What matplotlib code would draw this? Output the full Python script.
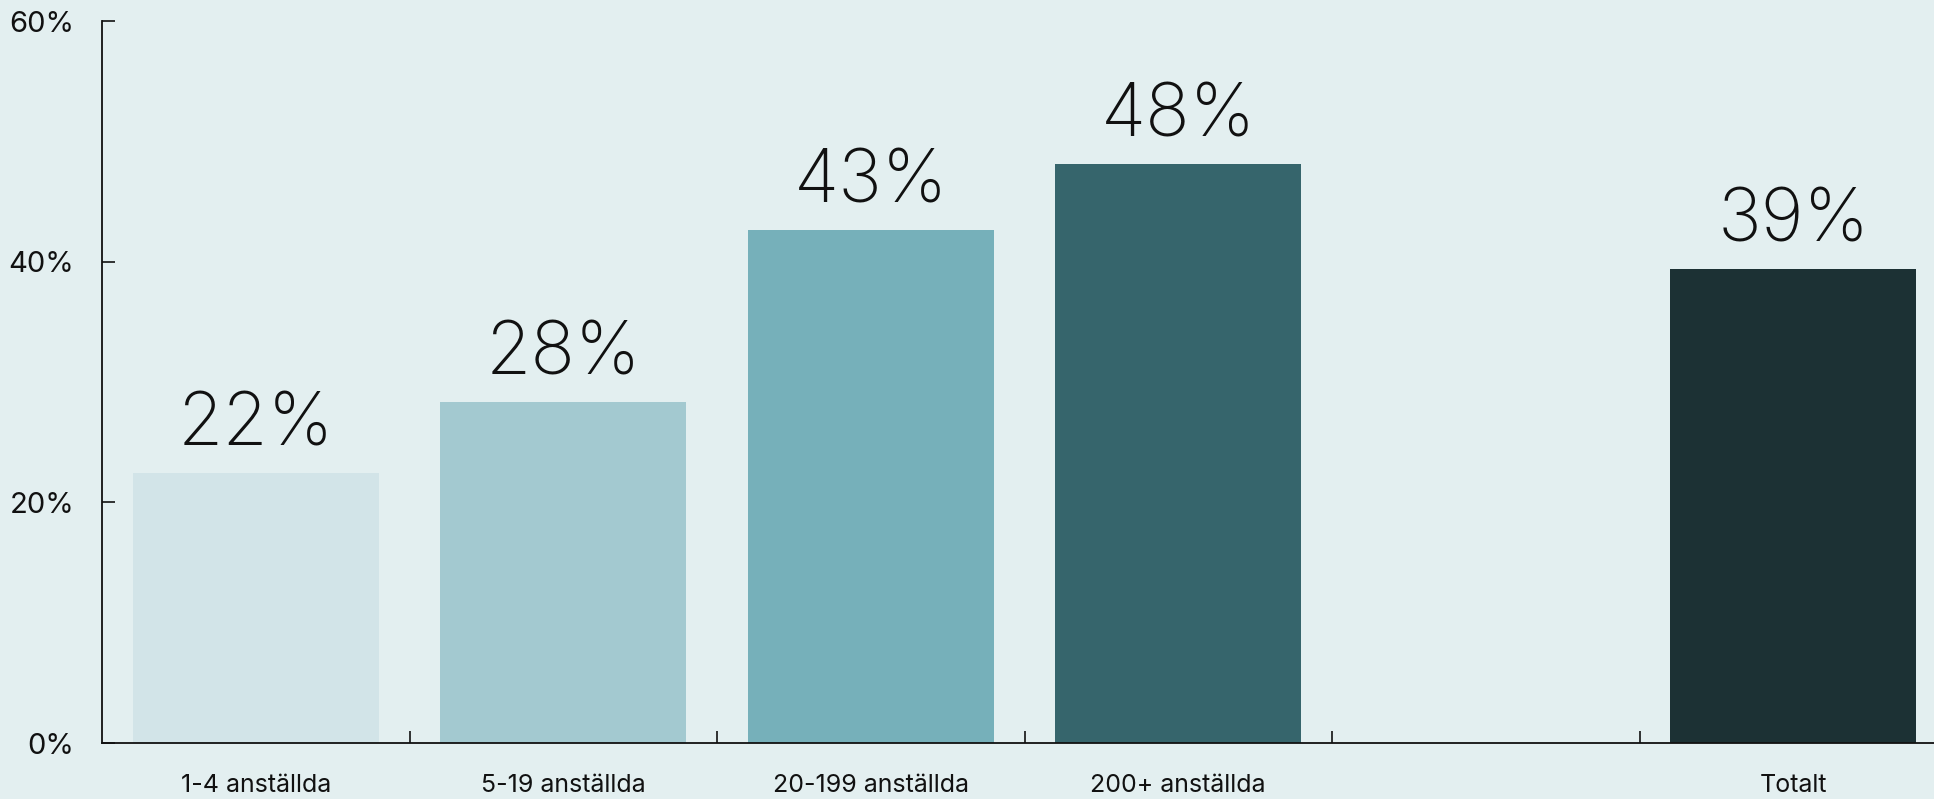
import matplotlib.pyplot as plt
from matplotlib.ticker import FuncFormatter

# data
kategorier = ['1-4 anställda', '5-19 anställda', '20-199 anställda', '200+ anställda', '', 'Totalt']
andel = [22.4, 28.3, 42.6, 48.1, None, 39.4]
farger = ['#d2e4e8', '#a3c9d0', '#76b0ba', '#36656c', '#ffffff', '#1c3134']

plt.rcParams['font.family'] = ['Inter', 'DejaVu Sans']

bg = '#e3eff0'
fig = plt.figure(figsize=(19.34, 7.99), dpi=100, facecolor=bg)
ax = fig.add_axes([102 / 1934, 1 - 743 / 799, (1947 - 102) / 1934, (743 - 21) / 799])
ax.set_facecolor(bg)

x = [i for i, v in enumerate(andel) if v is not None]
h = [v for v in andel if v is not None]
c = [farger[i] for i in x]
bars = ax.bar(x, h, width=0.8, color=c, zorder=2)
ax.bar_label(bars, labels=[f'{round(v)}%' for v in h], padding=9, fontsize=53,
             color='#111111', fontweight='light')

ax.set_xlim(-0.5, 5.5)
ax.set_ylim(0, 60)
ax.set_yticks([0, 20, 40, 60])
ax.yaxis.set_major_formatter(FuncFormatter(lambda v, p: f'{int(v)}%'))
ax.set_xticks(range(len(kategorier)))
ax.set_xticklabels(kategorier)
ax.set_xticks([0.5, 1.5, 2.5, 3.5, 4.5], minor=True)

ax.tick_params(axis='x', which='major', length=0, pad=22, labelsize=18, labelcolor='#111111')
ax.tick_params(axis='x', which='minor', direction='in', length=9, width=1.2, color='#111111')
ax.tick_params(axis='y', direction='in', length=9, width=1.2, pad=20, labelsize=21,
               labelcolor='#111111', color='#111111')

for s in ['top', 'right']:
    ax.spines[s].set_visible(False)
for s in ['left', 'bottom']:
    ax.spines[s].set_color('#111111')
    ax.spines[s].set_linewidth(1.3)

fig.savefig('out.png', dpi=100, facecolor=bg)
